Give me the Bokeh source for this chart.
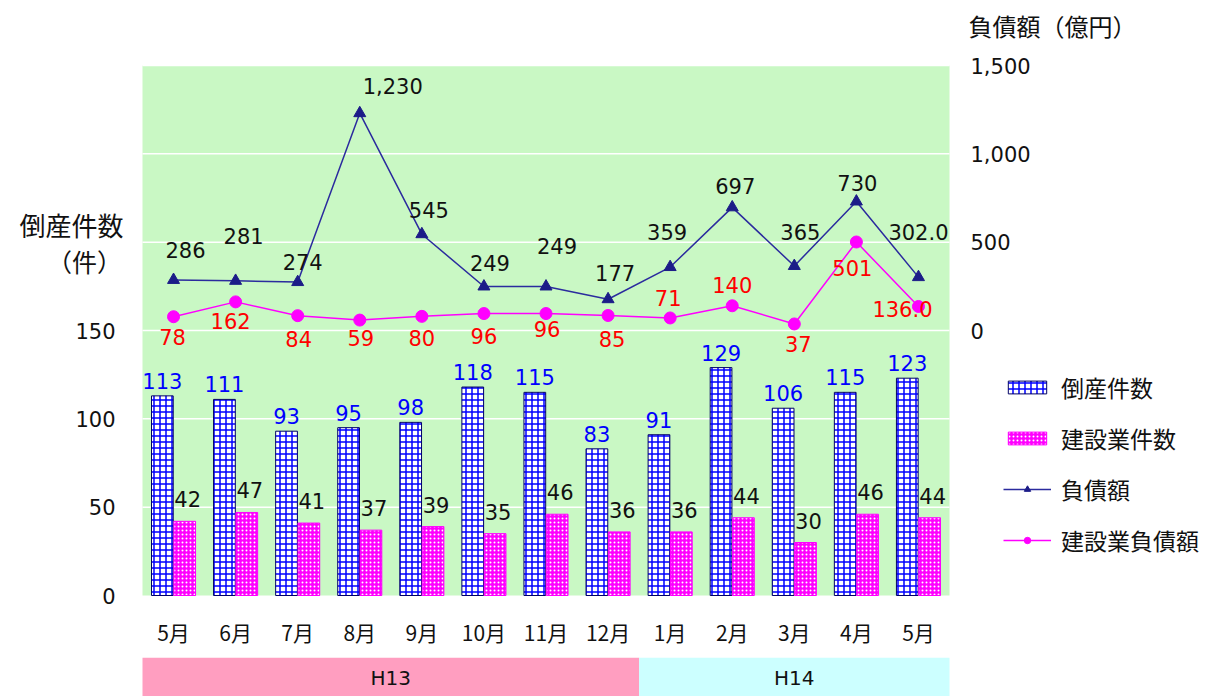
from bokeh.plotting import figure
from bokeh.models import (Range1d, LinearAxis, FixedTicker, Legend, LegendItem,
                          ColumnDataSource, NumeralTickFormatter, Label,
                          BoxAnnotation)
from bokeh.layouts import column
from bokeh.embed import file_html
from bokeh.resources import INLINE
from bokeh.core.properties import value

# ---------------- data ----------------
months = ["5月", "6月", "7月", "8月", "9月", "10月", "11月", "12月",
          "1月", "2月", "3月", "4月", "5月"]
bankruptcies = [113, 111, 93, 95, 98, 118, 115, 83, 91, 129, 106, 115, 123]
construction_cases = [42, 47, 41, 37, 39, 35, 46, 36, 36, 44, 30, 46, 44]
debt = [286, 281, 274, 1230, 545, 249, 249, 177, 359, 697, 365, 730, 302]
construction_debt = [78, 162, 84, 59, 80, 96, 96, 85, 71, 140, 37, 501, 136]
debt_labels = ["286", "281", "274", "1,230", "545", "249", "249", "177",
               "359", "697", "365", "730", "302.0"]
cdebt_labels = ["78", "162", "84", "59", "80", "96", "96", "85",
                "71", "140", "37", "501", "136.0"]
year_groups = ["H13", "H14"]
year_group_sizes = [8, 5]
left_ticks = [0, 50, 100, 150]
right_ticks = [0, 500, 1000, 1500]
grid_ticks = [50, 100, 150, 200, 250, 300]
left_max = 300
right_min, right_max = -1500, 1500

# ---------------- label styling offsets (screen px, down = positive) ----
debt_dx = [12, 8, 5, 33, 7, 6, 11, 7, -3, 3, 6, 1, 0]
debt_dy = [-30, -45, -20, -27, -24, -24, -41, -26, -35, -21, -34, -19, -45]
cdebt_dx = [-1, -5, 1, 1, 0, 0, 1, 4, -2, 0, 4, -4, -16]
cdebt_dy = [20, 19, 23, 18, 22, 22, 15, 24, -20, -21, 20, 26, 3]

JP = "Noto Sans CJK JP"
NUM = "DejaVu Sans"

# ---------------- layout (pixels) ----------------
W, H, HB = 1216, 657, 39
PL, PR, PT, PB = 142, 949, 65, 595      # plot-area edges on the canvas

n = len(months)
pxc = (PR - PL) / n                     # px per category
pxu = (PB - PT) / left_max              # px per left-axis unit
pxr = (PB - PT) / (right_max - right_min)


def dx(px):
    return (px - PL) / pxc


def dy(py):
    return (PB - py) / pxu


centers = [i + 0.5 for i in range(n)]
blue_x = [c - 0.18 for c in centers]
pink_x = [c + 0.18 for c in centers]

src = ColumnDataSource(dict(
    c=centers, bx=blue_x, px=pink_x,
    bank=bankruptcies, cons=construction_cases,
    debt=debt, cdebt=construction_debt,
    bank_t=[str(v) for v in bankruptcies],
    cons_t=[str(v) for v in construction_cases],
    debt_t=debt_labels, cdebt_t=cdebt_labels,
    ddx=debt_dx, ddy=debt_dy, cdx=cdebt_dx, cdy=cdebt_dy,
))

xr = Range1d(dx(0), dx(W))
p = figure(width=W, height=H,
           x_range=xr, y_range=Range1d(dy(H), dy(0)),
           toolbar_location=None, output_backend="svg", min_border=0,
           x_axis_location=None, y_axis_location=None, title=None)
p.background_fill_color = "white"
p.border_fill_color = "white"
p.outline_line_color = None
p.grid.visible = False
p.extra_y_ranges = {"debt": Range1d(right_min - (H - PB) / pxr,
                                    right_max + PT / pxr)}

# plot area background
p.add_layout(BoxAnnotation(left=0, right=n, bottom=0, top=left_max,
                           fill_color="#c9f8c4", fill_alpha=1,
                           line_color=None, level="underlay"))
# gridlines across the plot area
p.segment(x0=[0] * len(grid_ticks), x1=[n] * len(grid_ticks),
          y0=grid_ticks, y1=grid_ticks, line_color="white", line_width=1.5)


def style_axis(ax, font, size, standoff):
    ax.axis_line_color = None
    ax.major_tick_line_color = None
    ax.minor_tick_line_color = None
    ax.major_tick_out = 0
    ax.major_tick_in = 0
    ax.major_label_text_font = font
    ax.major_label_text_font_size = size
    ax.major_label_text_color = "#111111"
    ax.major_label_standoff = standoff


xax = LinearAxis(fixed_location=0, ticker=FixedTicker(ticks=centers))
xax.major_label_overrides = {c: m for c, m in zip(centers, months)}
style_axis(xax, JP, "21px", 21)
p.add_layout(xax, "below")

lax = LinearAxis(fixed_location=0, ticker=FixedTicker(ticks=left_ticks))
style_axis(lax, NUM, "21px", 27)
p.add_layout(lax, "left")

rax = LinearAxis(y_range_name="debt", fixed_location=n,
                 ticker=FixedTicker(ticks=right_ticks),
                 formatter=NumeralTickFormatter(format="0,0"))
style_axis(rax, NUM, "21px", 21)
p.add_layout(rax, "right")

# bars
r_bank = p.vbar(x="bx", top="bank", width=0.35, source=src, fill_color="white",
                hatch_pattern="+", hatch_color="#0000ff", hatch_scale=6,
                hatch_weight=1.5, line_color="#000066", line_width=1)
r_cons = p.vbar(x="px", top="cons", width=0.35, source=src, fill_color="#ff00ff",
                hatch_pattern=".", hatch_color="white", hatch_scale=4,
                hatch_weight=1.2, line_color="#ff00ff", line_width=1)

# lines
r_dl = p.line(x="c", y="debt", source=src, y_range_name="debt",
              line_color="#2b2b9e", line_width=1.5)
r_ds = p.scatter(x="c", y="debt", source=src, y_range_name="debt",
                 marker="triangle", size=12, fill_color="#1c1c88",
                 line_color="#1c1c88")
r_cl = p.line(x="c", y="cdebt", source=src, y_range_name="debt",
              line_color="#ff00ff", line_width=1.5)
r_cs = p.scatter(x="c", y="cdebt", source=src, y_range_name="debt",
                 marker="circle", size=12, fill_color="#ff00ff",
                 line_color="#ff00ff")

# value labels
p.text(x="bx", y="bank", text="bank_t", source=src, text_align="center",
       text_baseline="middle", y_offset=-15, text_color="#0000ff",
       text_font=value(NUM), text_font_size="21px")
p.text(x="px", y="cons", text="cons_t", source=src, text_align="center",
       text_baseline="middle", x_offset=3, y_offset=-22, text_color="#111111",
       text_font=value(NUM), text_font_size="21px")
p.text(x="c", y="debt", text="debt_t", source=src, y_range_name="debt",
       text_align="center", text_baseline="middle", x_offset="ddx",
       y_offset="ddy", text_color="#111111", text_font=value(NUM),
       text_font_size="21px")
p.text(x="c", y="cdebt", text="cdebt_t", source=src, y_range_name="debt",
       text_align="center", text_baseline="middle", x_offset="cdx",
       y_offset="cdy", text_color="#ff0000", text_font=value(NUM),
       text_font_size="21px")

# axis captions
for txt, px_, py_, align, size in [("倒産件数", 71, 224, "center", "26px"),
                                   ("（件）", 84, 260, "center", "25px"),
                                   ("負債額（億円）", 968, 25, "left", "24px")]:
    p.add_layout(Label(x=dx(px_), y=dy(py_), text=txt, text_align=align,
                       text_baseline="middle", text_font=JP,
                       text_font_size=size, text_color="#111111"))

# legend
legend = Legend(items=[
    LegendItem(label="倒産件数", renderers=[r_bank]),
    LegendItem(label="建設業件数", renderers=[r_cons]),
    LegendItem(label="負債額", renderers=[r_dl, r_ds]),
    LegendItem(label="建設業負債額", renderers=[r_cl, r_cs]),
], location=(1003, H - 557))
legend.label_text_font = JP
legend.label_text_font_size = "23px"
legend.label_text_color = "#111111"
legend.glyph_width = 48
legend.glyph_height = 16
legend.label_height = 22
legend.spacing = 17
legend.label_standoff = 10
legend.padding = 0
legend.margin = 0
legend.border_line_color = None
legend.background_fill_alpha = 0
p.add_layout(legend)

# year band
starts, ends = [], []
acc = 0
for s in year_group_sizes:
    starts.append(acc)
    acc += s
    ends.append(acc)
band_src = ColumnDataSource(dict(
    left=starts, right=ends, mid=[(a + b) / 2 for a, b in zip(starts, ends)],
    label=year_groups, color=["#ff9ec0", "#ccffff"]))

b = figure(width=W, height=HB, x_range=xr, y_range=Range1d(0, 1),
           toolbar_location=None, output_backend="svg", min_border=0,
           x_axis_location=None, y_axis_location=None, title=None)
b.grid.visible = False
b.outline_line_color = None
b.background_fill_color = "white"
b.border_fill_color = "white"
b.quad(left="left", right="right", bottom=0, top=1, source=band_src,
       fill_color="color", line_color=None)
b.text(x="mid", y=0.47, text="label", source=band_src, text_align="center",
       text_baseline="middle", text_color="#111111", text_font=value(NUM),
       text_font_size="20px")

layout = column(p, b, spacing=0)
open("out.html", "w").write(file_html(layout, INLINE))
